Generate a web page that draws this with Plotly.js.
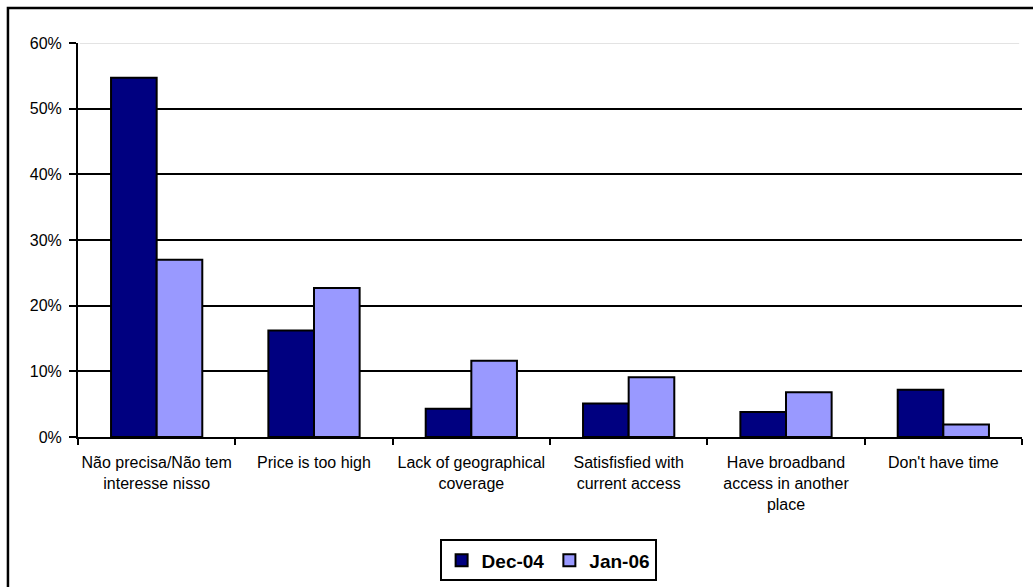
<!DOCTYPE html>
<html>
<head>
<meta charset="utf-8">
<script src="https://cdn.plot.ly/plotly-3.0.1.min.js"></script>
<style>html,body{margin:0;padding:0;background:#fff;}#chart{width:1033px;height:587px;}</style>
</head>
<body>
<div id="chart"></div>
<script>
const categories = [
  "Não precisa/Não tem<br>interesse nisso",
  "Price is too high",
  "Lack of geographical<br>coverage",
  "Satisfisfied with<br>current access",
  "Have broadband<br>access in another<br>place",
  "Don't have time"
];
const seriesNames = ["Dec-04", "Jan-06"];
const dec04 = [0.547, 0.162, 0.043, 0.051, 0.038, 0.072];
const jan06 = [0.270, 0.227, 0.116, 0.091, 0.068, 0.019];
const yTicks = [0, 0.1, 0.2, 0.3, 0.4, 0.5, 0.6];
const yTickText = ["0%", "10%", "20%", "30%", "40%", "50%", "60%"];

const font = {family: "Liberation Sans, Arial, sans-serif", size: 16, color: "#000"};

const traces = [
  {type: "bar", name: seriesNames[0], x: categories, y: dec04,
   marker: {color: "#000080", line: {color: "#000", width: 2}}},
  {type: "bar", name: seriesNames[1], x: categories, y: jan06,
   marker: {color: "#9999FF", line: {color: "#000", width: 2}}}
];

const layout = {
  width: 1033, height: 587,
  margin: {l: 78, r: 11, t: 43, b: 150, autoexpand: false},
  paper_bgcolor: "#fff", plot_bgcolor: "#fff",
  font: font,
  barmode: "group", bargap: 0.42, bargroupgap: 0,
  showlegend: true,
  legend: {
    orientation: "h", x: 0.498, xanchor: "center", y: -0.313, yanchor: "middle",
    bordercolor: "#000", borderwidth: 2, bgcolor: "#fff",
    font: {family: "Liberation Sans, Arial, sans-serif", size: 19, color: "#000", weight: "bold"},
    itemwidth: 30, tracegroupgap: 0
  },
  xaxis: {
    type: "category", range: [-0.5, 5.5], automargin: false,
    showline: true, linecolor: "#000", linewidth: 2,
    ticks: "outside", tickson: "boundaries", ticklen: 6, tickwidth: 2, tickcolor: "#000",
    showgrid: false, zeroline: false, tickangle: 0,
    ticklabelstandoff: 10,
    tickfont: font
  },
  yaxis: {
    range: [0, 0.6], tickvals: yTicks, ticktext: yTickText, automargin: false,
    showline: true, linecolor: "#000", linewidth: 2,
    ticks: "outside", ticklen: 7, tickwidth: 2, tickcolor: "#000",
    showgrid: true, gridcolor: "#000", gridwidth: 2, zeroline: false,
    ticklabelstandoff: 4,
    tickfont: font
  },
  shapes: [
    {type: "line", xref: "paper", yref: "y", x0: 0.002, x1: 1, y0: 0.6, y1: 0.6,
     line: {color: "#fff", width: 4}, layer: "above"},
    {type: "line", xref: "paper", yref: "y", x0: 0.002, x1: 0.997, y0: 0.6, y1: 0.6,
     line: {color: "#c8c8c8", width: 1}, layer: "above"},
    {type: "rect", xref: "paper", yref: "paper", x0: -0.0742, x1: 1.03, y0: -0.42, y1: 1.0888,
     line: {color: "#000", width: 2.5}, fillcolor: "rgba(0,0,0,0)", layer: "below"}
  ]
};

Plotly.newPlot("chart", traces, layout, {staticPlot: true, displayModeBar: false});
</script>
</body>
</html>
